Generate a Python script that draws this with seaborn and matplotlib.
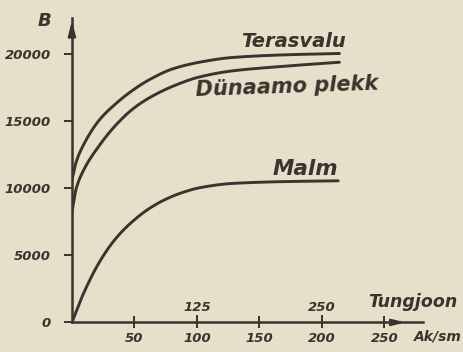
import numpy as np
import pandas as pd
import matplotlib
matplotlib.use("Agg")
import matplotlib.pyplot as plt
import seaborn as sns

# Magnetising force H (A/cm) and flux density B (gauss) for three materials
h_terasvalu = [0, 3.2, 8.5, 22, 35, 48.5, 62, 80.5, 102, 128, 170, 214]
b_terasvalu = [10600, 11900, 13100, 15100, 16300, 17300, 18100, 18900, 19400, 19750, 19950, 20050]

h_dynamo = [0, 3.2, 8.5, 22, 35, 48.5, 62, 80.5, 102, 128, 170, 214]
b_dynamo = [8200, 9900, 11200, 13200, 14700, 15900, 16750, 17600, 18300, 18750, 19100, 19400]

h_malm = [0, 8.5, 22, 35, 48.5, 62, 75, 88.5, 102, 128, 170, 213]
b_malm = [0, 2000, 4500, 6250, 7530, 8500, 9180, 9690, 10040, 10360, 10500, 10560]

series_names = ["Terasvalu", "Dünaamo plekk", "Malm"]

y_ticks = [0, 5000, 10000, 15000, 20000]
x_ticks = [50, 100, 150, 200, 250]
tungjoon_ticks = [125, 250]

paper = "#e7dfca"
ink = "#3b332d"

sns.set_theme(style="white")
plt.rcParams["font.family"] = ["DejaVu Sans"]

frames = []
for name, h, b in zip(series_names,
                      [h_terasvalu, h_dynamo, h_malm],
                      [b_terasvalu, b_dynamo, b_malm]):
    frames.append(pd.DataFrame({"H": h, "B": b, "material": name}))
df = pd.concat(frames, ignore_index=True)


def pchip(x, y, xs):
    """Monotone piecewise cubic interpolation through the read points."""
    d = np.diff(y) / np.diff(x)
    m = np.zeros_like(y)
    m[0], m[-1] = d[0], d[-1]
    for i in range(1, len(y) - 1):
        if d[i - 1] * d[i] > 0:
            w1 = 2 * (x[i + 1] - x[i]) + (x[i] - x[i - 1])
            w2 = (x[i + 1] - x[i]) + 2 * (x[i] - x[i - 1])
            m[i] = (w1 + w2) / (w1 / d[i - 1] + w2 / d[i])
    idx = np.clip(np.searchsorted(x, xs) - 1, 0, len(x) - 2)
    hk = x[idx + 1] - x[idx]
    t = (xs - x[idx]) / hk
    return ((2 * t**3 - 3 * t**2 + 1) * y[idx] + (t**3 - 2 * t**2 + t) * hk * m[idx]
            + (-2 * t**3 + 3 * t**2) * y[idx + 1] + (t**3 - t**2) * hk * m[idx + 1])


smooth = []
for name, g in df.groupby("material", sort=False):
    x = g["H"].to_numpy(float)
    y = g["B"].to_numpy(float)
    hs = np.linspace(x.min(), x.max(), 300)
    smooth.append(pd.DataFrame({"H": hs, "B": pchip(x, y, hs), "material": name}))
sdf = pd.concat(smooth, ignore_index=True)

fig = plt.figure(figsize=(4.64, 3.52), dpi=100, facecolor=paper)
ax = fig.add_axes([0.155, 0.084, 0.757, 0.865])
ax.set_facecolor(paper)

sns.lineplot(data=sdf, x="H", y="B", hue="material", ax=ax,
             palette={n: ink for n in series_names}, linewidth=2.1,
             legend=False, estimator=None, sort=False)

ax.set_xlim(0, 281)
ax.set_ylim(0, 22700)
ax.set_xlabel("")
ax.set_ylabel("")

for s in ["top", "right"]:
    ax.spines[s].set_visible(False)
for s in ["left", "bottom"]:
    ax.spines[s].set_color(ink)
    ax.spines[s].set_linewidth(1.8)

lab = dict(color=ink, fontstyle="italic", fontweight="bold")

ax.set_yticks(y_ticks)
ax.set_yticklabels([str(v) for v in y_ticks], fontsize=9.5, **lab)
ax.set_xticks(x_ticks)
ax.set_xticklabels([str(v) for v in x_ticks], fontsize=9.5, **lab)
ax.tick_params(axis="y", direction="out", length=6, width=1.4, color=ink, pad=9, left=True)
ax.tick_params(axis="x", direction="inout", length=8, width=1.4, color=ink, pad=3, bottom=True)

# second scale along the H axis (ampere-turns)
sec = ax.secondary_xaxis(0.0, functions=(lambda v: v * 1.25, lambda v: v / 1.25))
sec.set_xticks(tungjoon_ticks)
sec.set_xticklabels([str(v) for v in tungjoon_ticks], fontsize=9.5, **lab)
sec.xaxis.set_ticks_position("top")
sec.tick_params(axis="x", direction="out", length=5, width=1.4, color=ink, pad=1)
for s in sec.spines.values():
    s.set_visible(False)

# arrowheads on the axes
ax.annotate("", xy=(0, 1.0), xycoords="axes fraction", xytext=(0, 0.93),
            arrowprops=dict(arrowstyle="-|>,head_length=0.7,head_width=0.18",
                            color=ink, lw=1.8), annotation_clip=False)
ax.annotate("", xy=(0.957, 0), xycoords="axes fraction", xytext=(0.9, 0),
            arrowprops=dict(arrowstyle="-|>,head_length=0.6,head_width=0.15",
                            color=ink, lw=1.8), annotation_clip=False)

# curve names
ax.text(177, 20950, "Terasvalu", ha="center", va="center", fontsize=14, **lab)
ax.text(172, 17600, "Dünaamo plekk", ha="center", va="center", fontsize=15,
        rotation=2, **lab)
ax.text(187, 11450, "Malm", ha="center", va="center", fontsize=15.5, **lab)
ax.text(273, 1500, "Tungjoon", ha="center", va="center", fontsize=12.5, **lab)

fig.text(45 / 464, 1 - 21 / 352, "B", ha="center", va="center", fontsize=13, **lab)
fig.text(438 / 464, 1 - 336 / 352, "Ak/sm", ha="center", va="center", fontsize=10, **lab)

fig.savefig("out.png", dpi=100, facecolor=paper)
